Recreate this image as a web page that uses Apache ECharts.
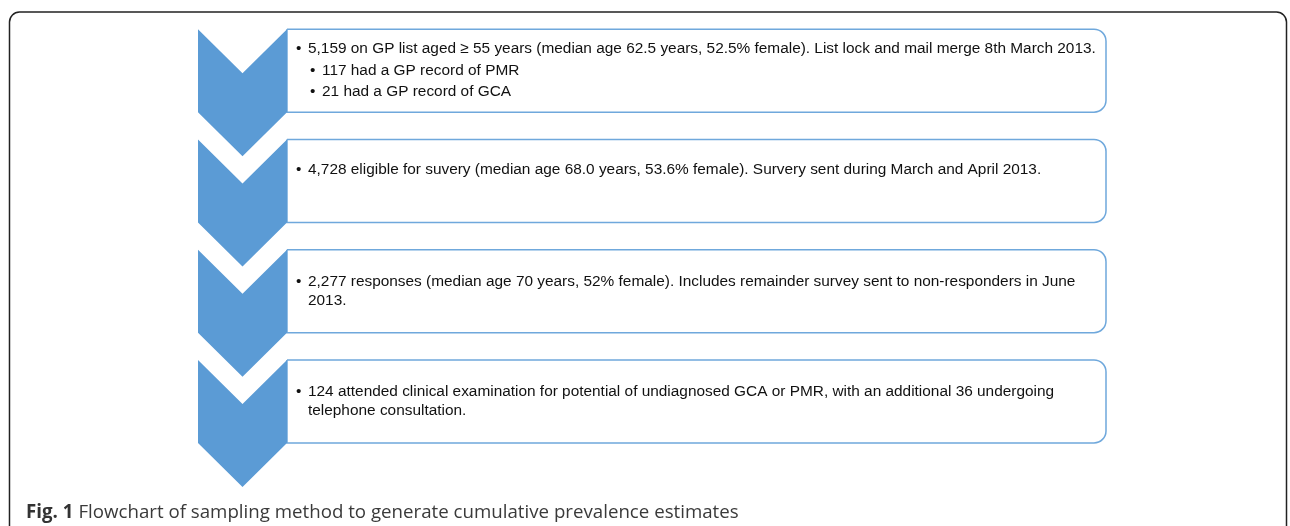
<!DOCTYPE html>
<html>
<head>
<meta charset="utf-8">
<script src="https://cdn.jsdelivr.net/npm/echarts@6/dist/echarts.min.js"></script>
<style>
    html, body { margin: 0; padding: 0; background: #fff; }
    #flow { width: 1290px; height: 526px; }
</style>
</head>
<body>
<div id="flow"></div>
<script>
var steps = ['Step 1', 'Step 2', 'Step 3', 'Step 4'];
// each line: [kind, text]  kind 0 = bullet, 1 = sub bullet, 2 = wrapped line, 3 = empty line
var stepLines = [
    [
        [0, '5,159 on GP list aged \u2265 55 years (median age 62.5 years, 52.5% female). List lock and mail merge 8th March 2013.'],
        [1, '117 had a GP record of PMR'],
        [1, '21 had a GP record of GCA']
    ],
    [
        [0, '4,728 eligible for suvery (median age 68.0 years, 53.6% female). Survery sent during March and April 2013.'],
        [3, '']
    ],
    [
        [0, '2,277 responses (median age 70 years, 52% female). Includes remainder survey sent to non-responders in June'],
        [2, '2013.']
    ],
    [
        [0, '124 attended clinical examination for potential of undiagnosed GCA or PMR, with an additional 36 undergoing'],
        [2, 'telephone consultation.']
    ]
];
var captionBold = 'Fig. 1';
var captionText = 'Flowchart of sampling method to generate cumulative prevalence estimates';

(function () {
    var myChart = echarts.init(document.getElementById('flow'));

    var BLUE = '#5b9bd5';
    var boxH = 83;      // box height
    var arrowW = 89;    // chevron width
    var notch = 44;     // chevron notch depth
    var paraGap = 21.5; // gap between bullets
    var wrapGap = 19;   // gap for a wrapped line
    var font = '15.4px "Liberation Sans", Arial, sans-serif';

    function renderStep(params, api) {
        var idx = api.value(1);
        var c = api.coord([0, idx]);
        var cs = params.coordSys;
        var top = c[1] - boxH / 2;
        var bottom = c[1] + boxH / 2;
        var x0 = cs.x;
        var x1 = cs.x + arrowW;
        var xm = (x0 + x1) / 2;
        var xr = cs.x + cs.width;

        var children = [
            {
                type: 'rect',
                shape: { x: x1, y: top, width: xr - x1, height: boxH, r: [0, 12, 12, 0] },
                style: { fill: '#fff', stroke: '#6fa8dc', lineWidth: 1.5 }
            },
            {
                type: 'polygon',
                shape: {
                    points: [
                        [x0, top], [xm, top + notch], [x1, top],
                        [x1, bottom], [xm, bottom + notch], [x0, bottom]
                    ]
                },
                style: { fill: BLUE }
            }
        ];

        var lines = stepLines[idx];
        // offsets of each line, then centre the block in the box
        var offs = [0];
        for (var i = 1; i < lines.length; i++) {
            offs.push(offs[i - 1] + (lines[i][0] === 2 ? wrapGap : paraGap));
        }
        var y0 = c[1] - offs[offs.length - 1] / 2;
        lines.forEach(function (ln, i) {
            var kind = ln[0];
            var y = y0 + offs[i];
            var tx = x1 + 21;
            if (kind === 1) tx = x1 + 35;
            if (kind === 0 || kind === 1) {
                children.push({
                    type: 'text',
                    style: { text: '\u2022', x: tx - 12, y: y, font: font, fill: '#111', verticalAlign: 'middle' }
                });
            }
            if (kind !== 3) {
                children.push({
                    type: 'text',
                    style: { text: ln[1], x: tx, y: y, font: font, fill: '#111', verticalAlign: 'middle' }
                });
            }
        });

        return { type: 'group', children: children };
    }

    var option = {
        backgroundColor: '#fff',
        animation: false,
        title: {
            left: 21,
            top: 498,
            text: '{b|' + captionBold + '} {n|' + captionText + '}',
            textStyle: {
                rich: {
                    b: { fontFamily: 'Open Sans', fontWeight: 'bold', fontSize: 18.7, color: '#333' },
                    n: { fontFamily: 'Open Sans', fontWeight: 'normal', fontSize: 18.7, color: '#3a3a3a' }
                }
            }
        },
        graphic: [
            {
                type: 'rect',
                shape: { x: 9.5, y: 12, width: 1277, height: 560, r: 10 },
                style: { fill: 'none', stroke: '#222', lineWidth: 1.5 },
                z: 0
            }
        ],
        grid: { left: 198, right: 184, top: 15.5, bottom: 69.5 },
        xAxis: { type: 'value', min: 0, max: 1, show: false },
        yAxis: { type: 'category', data: steps, inverse: true, show: false },
        series: [
            {
                type: 'custom',
                renderItem: renderStep,
                data: steps.map(function (s, i) { return [0, i]; }),
                z: 2
            }
        ]
    };

    myChart.setOption(option);
    window.addEventListener("resize", function () {
        myChart.resize();
    });
})();
</script>
</body>
</html>
